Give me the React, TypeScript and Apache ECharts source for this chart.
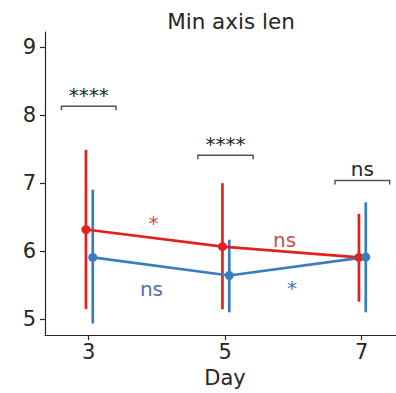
import React, { useEffect, useRef } from "react";
import * as echarts from "echarts";

const days = [3, 5, 7];
const redMean = [6.32, 6.07, 5.91];
const redLow = [5.15, 5.15, 5.26];
const redHigh = [7.49, 7.0, 6.55];
const blueMean = [5.91, 5.645, 5.915];
const blueLow = [4.94, 5.105, 5.105];
const blueHigh = [6.905, 6.17, 6.72];
const redDodge = -0.04;
const blueDodge = 0.06;

const yTicks = [5, 6, 7, 8, 9];
const xTicks = [3, 5, 7];

// brackets: x1, x2, y, label
const bracketX1 = [2.6, 4.6, 6.61];
const bracketX2 = [3.4, 5.41, 7.41];
const bracketY = [8.13, 7.41, 7.04];
const bracketLabels = ["****", "****", "ns"];

// colored pairwise labels: x, y, text
const redNoteX = [3.95, 5.87];
const redNoteY = [6.42, 6.16];
const redNoteText = ["*", "ns"];
const blueNoteX = [3.92, 5.98];
const blueNoteY = [5.44, 5.46];
const blueNoteText = ["ns", "*"];

const FONT = "DejaVu Sans";
const RED = "#e3211c";
const BLUE = "#3a7dbd";
const RED_TXT = "#c44e52";
const BLUE_TXT = "#4c72b0";
const DARK = "#262626";

export default function App() {
  const ref = useRef<HTMLDivElement>(null);
  useEffect(() => {
    if (!ref.current) return;
    const chart = echarts.init(ref.current, undefined, { renderer: "svg" });

    const errSeries = (name: string, color: string, dodge: number, lo: number[], hi: number[]) => ({
      type: "custom",
      name,
      data: days.map((d, i) => [d + dodge, lo[i], hi[i]]),
      encode: { x: 0, y: [1, 2] },
      z: 2,
      renderItem: (params: any, api: any) => {
        const p1 = api.coord([api.value(0), api.value(1)]);
        const p2 = api.coord([api.value(0), api.value(2)]);
        return {
          type: "line",
          shape: { x1: p1[0], y1: p1[1], x2: p2[0], y2: p2[1] },
          style: { stroke: color, lineWidth: 2.7 },
        };
      },
    });

    const noteSeries = (xs: number[], ys: number[], texts: string[], color: string) => ({
      type: "custom",
      data: xs.map((x, i) => [x, ys[i], i]),
      encode: { x: 0, y: 1 },
      z: 5,
      renderItem: (params: any, api: any) => {
        const p = api.coord([api.value(0), api.value(1)]);
        return {
          type: "text",
          x: p[0],
          y: p[1],
          style: {
            text: texts[api.value(2)],
            fill: color,
            font: `20px "${FONT}"`,
            align: "center",
            verticalAlign: "middle",
          },
        };
      },
    });

    chart.setOption({
      animation: false,
      backgroundColor: "#ffffff",
      title: {
        text: "Min axis len",
        left: 226,
        top: 5,
        textAlign: "center",
        textStyle: { fontFamily: FONT, fontSize: 21.5, fontWeight: "normal", color: DARK },
      },
      grid: { left: 45, right: 0, top: 32, bottom: 53 },
      xAxis: {
        type: "value",
        min: 2.36,
        max: 7.503,
        name: "Day",
        nameLocation: "middle",
        nameGap: 31,
        nameTextStyle: { fontFamily: FONT, fontSize: 21, color: DARK, padding: [0, 0, 0, 9] },
        axisLine: { show: true, lineStyle: { color: DARK, width: 1.2 } },
        axisTick: { show: true, customValues: xTicks, length: 5, lineStyle: { color: DARK, width: 1.2 } },
        axisLabel: { customValues: xTicks, fontFamily: FONT, fontSize: 21, color: DARK, margin: 6 },
        splitLine: { show: false },
      },
      yAxis: {
        type: "value",
        min: 4.77,
        max: 9.22,
        axisLine: { show: true, lineStyle: { color: DARK, width: 1.2 } },
        axisTick: { show: true, customValues: yTicks, length: 5, lineStyle: { color: DARK, width: 1.2 } },
        axisLabel: { customValues: yTicks, fontFamily: FONT, fontSize: 21, color: DARK, margin: 9 },
        splitLine: { show: false },
      },
      series: [
        errSeries("redErr", RED, redDodge, redLow, redHigh),
        errSeries("blueErr", BLUE, blueDodge, blueLow, blueHigh),
        {
          type: "line",
          name: "red",
          data: days.map((d, i) => [d + redDodge, redMean[i]]),
          symbol: "circle",
          symbolSize: 9,
          lineStyle: { color: RED, width: 2.7 },
          itemStyle: { color: RED },
          z: 3,
        },
        {
          type: "line",
          name: "blue",
          data: days.map((d, i) => [d + blueDodge, blueMean[i]]),
          symbol: "circle",
          symbolSize: 9,
          lineStyle: { color: BLUE, width: 2.7 },
          itemStyle: { color: BLUE },
          z: 3,
        },
        {
          type: "custom",
          data: bracketX1.map((x1, i) => [x1, bracketY[i], bracketX2[i], i]),
          encode: { x: [0, 2], y: 1 },
          z: 5,
          renderItem: (params: any, api: any) => {
            const a = api.coord([api.value(0), api.value(1)]);
            const b = api.coord([api.value(2), api.value(1)]);
            return {
              type: "group",
              children: [
                {
                  type: "polyline",
                  shape: { points: [[a[0], a[1] + 4], [a[0], a[1]], [b[0], b[1]], [b[0], b[1] + 4]] },
                  style: { stroke: "#555555", lineWidth: 1.5, fill: "none" },
                },
                {
                  type: "text",
                  x: (a[0] + b[0]) / 2,
                  y: a[1] - 11.5,
                  style: {
                    text: bracketLabels[api.value(3)],
                    fill: DARK,
                    font: `20px "${FONT}"`,
                    align: "center",
                    verticalAlign: "middle",
                  },
                },
              ],
            };
          },
        },
        noteSeries(redNoteX, redNoteY, redNoteText, RED_TXT),
        noteSeries(blueNoteX, blueNoteY, blueNoteText, BLUE_TXT),
      ],
    });
    return () => chart.dispose();
  }, []);
  return (
    <div
      ref={ref}
      style={{ position: "absolute", left: 0, top: 0, width: 396, height: 393 }}
    />
  );
}
